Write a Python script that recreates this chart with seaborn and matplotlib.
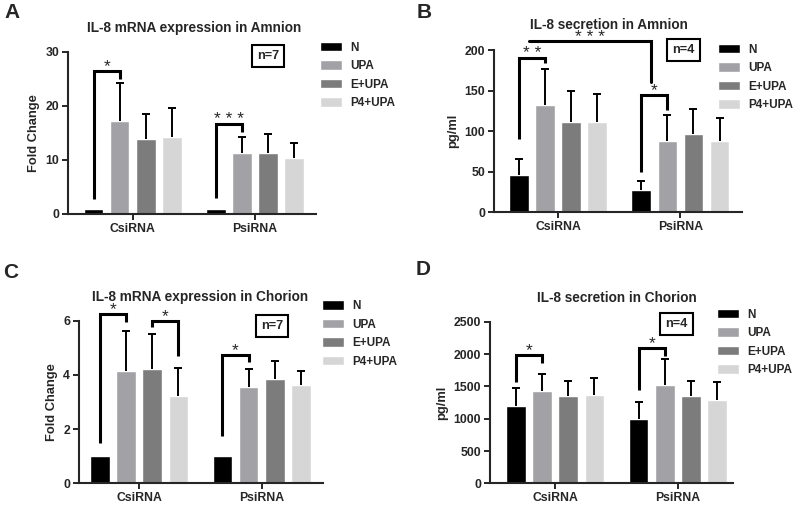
import numpy as np
import pandas as pd
import matplotlib
matplotlib.use("Agg")
import matplotlib.pyplot as plt
import seaborn as sns

# ---------------- data ----------------
groups = ["CsiRNA", "PsiRNA"]
treatments = ["N", "UPA", "E+UPA", "P4+UPA"]
colors = ["#000000", "#a2a2a6", "#7c7c7c", "#d6d6d6"]

# Panel A: IL-8 mRNA expression in Amnion (fold change)
A_N = [1.0, 1.0]
A_UPA = [17.2, 11.2]
A_E = [13.8, 11.3]
A_P4 = [14.2, 10.3]
A_N_err = [0.0, 0.0]
A_UPA_err = [7.1, 3.0]
A_E_err = [4.6, 3.4]
A_P4_err = [5.3, 2.9]

# Panel B: IL-8 secretion in Amnion (pg/ml)
B_N = [46.4, 27.5]
B_UPA = [132.2, 87.9]
B_E = [111.7, 96.5]
B_P4 = [110.9, 87.9]
B_N_err = [18.9, 11.1]
B_UPA_err = [44.4, 32.0]
B_E_err = [37.3, 30.8]
B_P4_err = [34.5, 28.7]

# Panel C: IL-8 mRNA expression in Chorion (fold change)
C_N = [1.0, 1.0]
C_UPA = [4.16, 3.54]
C_E = [4.22, 3.84]
C_P4 = [3.23, 3.63]
C_N_err = [0.0, 0.0]
C_UPA_err = [1.47, 0.69]
C_E_err = [1.30, 0.68]
C_P4_err = [1.01, 0.53]

# Panel D: IL-8 secretion in Chorion (pg/ml)
D_N = [1196, 1000]
D_UPA = [1433, 1526]
D_E = [1345, 1345]
D_P4 = [1361, 1289]
D_N_err = [278, 253]
D_UPA_err = [258, 392]
D_E_err = [243, 243]
D_P4_err = [268, 283]

A_yticks = [0, 10, 20, 30]
B_yticks = [0, 50, 100, 150, 200]
C_yticks = [0, 2, 4, 6]
D_yticks = [0, 500, 1000, 1500, 2000, 2500]

# ---------------- style ----------------
sns.set_style("ticks")
plt.rcParams["font.family"] = ["Liberation Sans", "DejaVu Sans"]
plt.rcParams["font.weight"] = "bold"
plt.rcParams["axes.labelweight"] = "bold"

fig = plt.figure(figsize=(8.0, 5.07), dpi=100)


def make_df(means, errs):
    rows = []
    for t, m, e in zip(treatments, means, errs):
        for g, v, ev in zip(groups, m, e):
            rows.append({"group": g, "treatment": t, "value": v, "err": ev})
    return pd.DataFrame(rows)


def panel(rect, df, xlim, yticks, ylabel):
    ax = fig.add_axes(rect)
    sns.barplot(data=df, x="group", y="value", hue="treatment",
                order=groups, hue_order=treatments, palette=colors,
                width=0.853, gap=0.25, errorbar=None, saturation=1,
                legend=False, ax=ax, zorder=2)
    # one-sided (upper) error bars drawn at the bar centres
    for i, t in enumerate(treatments):
        cont = ax.containers[i]
        for j, g in enumerate(groups):
            bar = cont[j]
            ev = df[(df.treatment == t) & (df.group == g)]["err"].iloc[0]
            if ev <= 0:
                continue
            xc = bar.get_x() + bar.get_width() / 2
            eb = ax.errorbar(xc, bar.get_height(), yerr=[[0], [ev]],
                             fmt="none", ecolor="black", elinewidth=1.4,
                             capsize=3.2, capthick=1.4, zorder=3)
            caps = eb[1]
            if len(caps) == 2:
                caps[0].set_visible(False)
    ax.set_xlim(*xlim)
    ax.set_ylim(yticks[0], yticks[-1])
    ax.set_yticks(yticks)
    ax.set_xlabel("")
    ax.set_ylabel(ylabel, fontsize=9.3, fontweight="bold")
    sns.despine(ax=ax)
    for s in ["left", "bottom"]:
        ax.spines[s].set_linewidth(1.5)
    ax.tick_params(axis="both", direction="out", length=4, width=1.4,
                   labelsize=8.8, pad=2.5)
    for lab in ax.get_xticklabels() + ax.get_yticklabels():
        lab.set_fontweight("bold")
    return ax


def center(ax, hue_i, grp_j):
    b = ax.containers[hue_i][grp_j]
    return b.get_x() + b.get_width() / 2


def bracket(ax, grp, hi, hj, y1, ytop, y2, label):
    x1 = center(ax, hi, grp)
    x2 = center(ax, hj, grp)
    ax.plot([x1, x1, x2, x2], [y1, ytop, ytop, y2], color="black", lw=2.2,
            solid_joinstyle="miter", solid_capstyle="butt", clip_on=False,
            zorder=4)
    ax.annotate(label, xy=((x1 + x2) / 2, ytop), xytext=(0, 0),
                textcoords="offset points", ha="center", va="baseline",
                fontsize=12.5, fontweight="normal", annotation_clip=False)


def legend(ax, x, ytop):
    ax.legend(ax.containers, treatments, loc="upper left",
              bbox_to_anchor=(x, ytop), bbox_transform=fig.transFigure,
              frameon=False, borderpad=0, borderaxespad=0,
              handlelength=1.9, handleheight=0.85, handletextpad=0.65,
              labelspacing=0.55, prop={"size": 8.5, "weight": "bold"})


def nbox(x, y, txt):
    fig.text(x, y, txt, ha="center", va="center", fontsize=9.2,
             fontweight="bold",
             bbox=dict(boxstyle="square,pad=0.42", fc="white", ec="black",
                       lw=1.5))


# ---------------- Panel A ----------------
dfA = make_df([A_N, A_UPA, A_E, A_P4], [A_N_err, A_UPA_err, A_E_err, A_P4_err])
axA = panel([0.085, 0.578, 0.310, 0.320], dfA, (-0.53, 1.5), A_yticks,
            "Fold Change")
bracket(axA, 0, 0, 1, 2.7, 26.4, 24.95, "*")
bracket(axA, 1, 0, 1, 2.9, 16.6, 15.1, "* * *")
legend(axA, 0.400, 0.918)
nbox(0.335, 0.8895, "n=7")
fig.text(0.2425, 0.9448, "IL-8 mRNA expression in Amnion", ha="center",
         va="center", fontsize=9.8, fontweight="bold")
fig.text(0.006, 0.976, "A", ha="left", va="center", fontsize=15,
         fontweight="bold")

# ---------------- Panel B ----------------
dfB = make_df([B_N, B_UPA, B_E, B_P4], [B_N_err, B_UPA_err, B_E_err, B_P4_err])
axB = panel([0.618, 0.5813, 0.309, 0.320], dfB, (-0.52, 1.5), B_yticks,
            "pg/ml")
bracket(axB, 0, 0, 1, 90.3, 190.5, 183.6, "* *")
bracket(axB, 1, 0, 1, 50, 144.6, 126, "*")
# long comparison line: CsiRNA N vs PsiRNA N
bl = axB.containers[0][0]
br = axB.containers[0][1]
xl = bl.get_x() + bl.get_width()
xr = br.get_x() + br.get_width()
axB.plot([xl, xr, xr], [211, 211, 161], color="black", lw=2.2,
         solid_joinstyle="miter", clip_on=False, zorder=4)
axB.annotate("* * *", xy=((xl + xr) / 2, 211), xytext=(0, -0.5),
             textcoords="offset points", ha="center", va="baseline",
             fontsize=12.5, fontweight="normal", annotation_clip=False)
legend(axB, 0.8975, 0.914)
nbox(0.854, 0.9014, "n=4")
fig.text(0.7606, 0.9507, "IL-8 secretion in Amnion", ha="center",
         va="center", fontsize=9.8, fontweight="bold")
fig.text(0.521, 0.975, "B", ha="left", va="center", fontsize=15,
         fontweight="bold")

# ---------------- Panel C ----------------
dfC = make_df([C_N, C_UPA, C_E, C_P4], [C_N_err, C_UPA_err, C_E_err, C_P4_err])
axC = panel([0.099, 0.0467, 0.3046, 0.3207], dfC, (-0.49, 1.5), C_yticks,
            "Fold Change")
bracket(axC, 0, 0, 1, 1.48, 6.26, 5.94, "*")
bracket(axC, 0, 2, 3, 5.78, 6.0, 4.71, "*")
bracket(axC, 1, 0, 1, 1.75, 4.73, 4.46, "*")
legend(axC, 0.4025, 0.408)
nbox(0.34, 0.357, "n=7")
fig.text(0.25, 0.4148, "IL-8 mRNA expression in Chorion", ha="center",
         va="center", fontsize=9.8, fontweight="bold")
fig.text(0.004, 0.4625, "C", ha="left", va="center", fontsize=15,
         fontweight="bold")

# ---------------- Panel D ----------------
dfD = make_df([D_N, D_UPA, D_E, D_P4], [D_N_err, D_UPA_err, D_E_err, D_P4_err])
axD = panel([0.6125, 0.0467, 0.304, 0.3187], dfD, (-0.53, 1.45), D_yticks,
            "pg/ml")
bracket(axD, 0, 0, 1, 1572, 1985, 1856, "*")
bracket(axD, 1, 0, 1, 1443, 2098, 1969, "*")
legend(axD, 0.896, 0.391)
nbox(0.846, 0.361, "n=4")
fig.text(0.7706, 0.4122, "IL-8 secretion in Chorion", ha="center",
         va="center", fontsize=9.8, fontweight="bold")
fig.text(0.519, 0.4685, "D", ha="left", va="center", fontsize=15,
         fontweight="bold")

fig.savefig("out.png", dpi=100, facecolor="white")
